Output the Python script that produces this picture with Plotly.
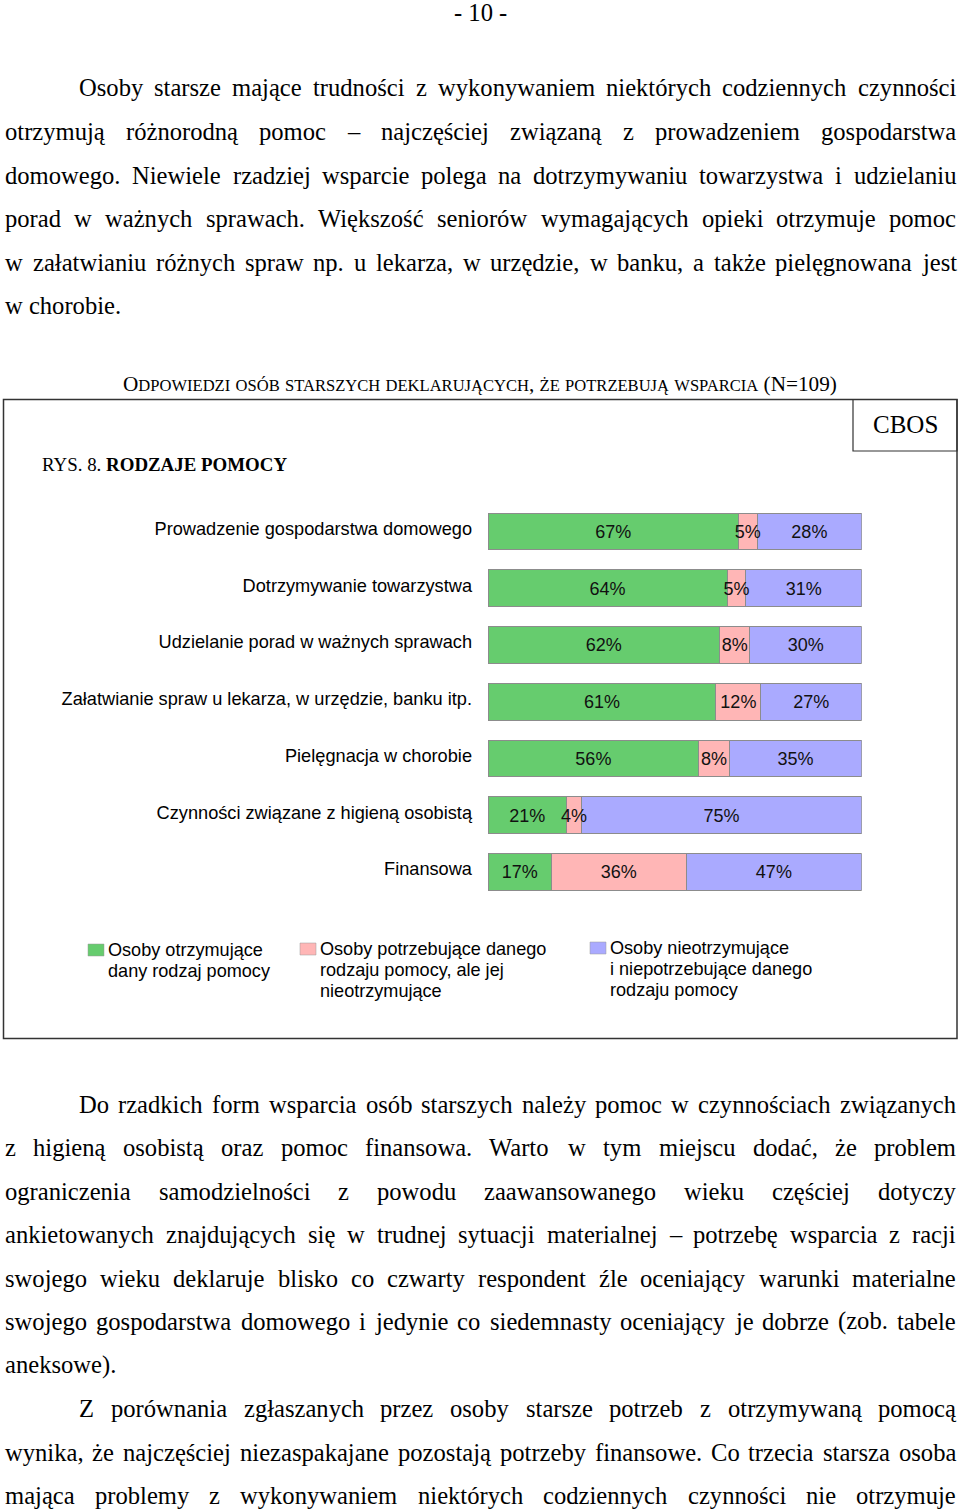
import plotly.graph_objects as go

W, H = 960, 1509

# ---------------- chart data ----------------
categories = [
    "Prowadzenie gospodarstwa domowego",
    "Dotrzymywanie towarzystwa",
    "Udzielanie porad w ważnych sprawach",
    "Załatwianie spraw u lekarza, w urzędzie, banku itp.",
    "Pielęgnacja w chorobie",
    "Czynności związane z higieną osobistą",
    "Finansowa",
]
received = [67, 64, 62, 61, 56.4, 21, 17]
needed_not_received = [5, 5, 8, 12, 8.2, 4, 36]
not_needed = [28, 31, 30, 27, 35.4, 75, 47]
series_names = [
    ["Osoby otrzymujące", "dany rodzaj pomocy"],
    ["Osoby potrzebujące danego", "rodzaju pomocy, ale jej", "nieotrzymujące"],
    ["Osoby nieotrzymujące", "i niepotrzebujące danego", "rodzaju pomocy"],
]
colors = ["#66CC6E", "#FFB6B6", "#AAAAFF"]

page_number = "- 10 -"
chart_title = "Odpowiedzi osób starszych deklarujących, że potrzebują wsparcia (N=109)"
fig_label_regular = "RYS. 8. "
fig_label_bold = "RODZAJE POMOCY"
source_label = "CBOS"

para1 = [
    "Osoby starsze mające trudności z wykonywaniem niektórych codziennych czynności",
    "otrzymują różnorodną pomoc – najczęściej związaną z prowadzeniem gospodarstwa",
    "domowego. Niewiele rzadziej wsparcie polega na dotrzymywaniu towarzystwa i udzielaniu",
    "porad w ważnych sprawach. Większość seniorów wymagających opieki otrzymuje pomoc",
    "w załatwianiu różnych spraw np. u lekarza, w urzędzie, w banku, a także pielęgnowana jest",
    "w chorobie.",
]
para2 = [
    "Do rzadkich form wsparcia osób starszych należy pomoc w czynnościach związanych",
    "z higieną osobistą oraz pomoc finansowa. Warto w tym miejscu dodać, że problem",
    "ograniczenia samodzielności z powodu zaawansowanego wieku częściej dotyczy",
    "ankietowanych znajdujących się w trudnej sytuacji materialnej – potrzebę wsparcia z racji",
    "swojego wieku deklaruje blisko co czwarty respondent źle oceniający warunki materialne",
    "swojego gospodarstwa domowego i jedynie co siedemnasty oceniający je dobrze (zob. tabele",
    "aneksowe).",
]
para3 = [
    "Z porównania zgłaszanych przez osoby starsze potrzeb z otrzymywaną pomocą",
    "wynika, że najczęściej niezaspakajane pozostają potrzeby finansowe. Co trzecia starsza osoba",
    "mająca problemy z wykonywaniem niektórych codziennych czynności nie otrzymuje",
]

# ---------------- helpers (layout) ----------------
SERIF = "Times New Roman, Liberation Serif, serif"
SANS = "Arial, Liberation Sans, sans-serif"


def X(px):
    return px / W


def Y(py):
    return 1 - py / H


ACC = {'ą': 'a', 'ć': 'c', 'ę': 'e', 'ł': 'l', 'ń': 'n', 'ó': 'o', 'ś': 's', 'ź': 'z', 'ż': 'z',
       'Ą': 'A', 'Ć': 'C', 'Ę': 'E', 'Ł': 'L', 'Ń': 'N', 'Ó': 'O', 'Ś': 'S', 'Ź': 'Z', 'Ż': 'Z'}
TR = dict(zip("abcdefghijklmnopqrstuvwxyz",
              [444, 500, 444, 500, 444, 333, 500, 500, 278, 278, 500, 278, 778, 500, 500, 500, 500, 333, 389,
               278, 500, 500, 722, 500, 500, 444]))
TR.update(zip("ABCDEFGHIJKLMNOPQRSTUVWXYZ",
              [722, 667, 667, 722, 611, 556, 722, 722, 333, 389, 722, 611, 889, 722, 722, 556, 722, 667, 556,
               611, 722, 722, 944, 722, 722, 611]))
TR.update({' ': 250, '.': 250, ',': 250, '-': 333, '–': 500, '(': 333, ')': 333, '=': 564, '%': 833,
           ':': 278, ';': 278})
TR.update({d: 500 for d in "0123456789"})


def tw(s, size, table=TR):
    return sum(table.get(ACC.get(c, c), 500) for c in s) * size / 1000.0


annotations = []
shapes = []


def ann(text, x, y, xanchor="left", size=24.6, family=SERIF, color="#000000", yanchor="middle"):
    annotations.append(dict(text=text, x=X(x), y=Y(y), xref="paper", yref="paper", xanchor=xanchor,
                            yanchor=yanchor, showarrow=False, borderpad=0, borderwidth=0,
                            font=dict(family=family, size=size, color=color), align="left"))


BODY = 24.6
LEFT, RIGHT, INDENT = 5, 956, 79


def add_paragraph(lines, ys, last_justified=False):
    for i, (line, y) in enumerate(zip(lines, ys)):
        left = INDENT if i == 0 else LEFT
        justify = (i < len(lines) - 1) or last_justified
        words = line.split(" ")
        if not justify or len(words) == 1:
            ann(line, left, y, size=BODY)
            continue
        widths = [tw(w, BODY) for w in words]
        gap = (RIGHT - left - sum(widths)) / (len(words) - 1)
        x = left
        for w, wd in zip(words, widths):
            ann(w, x, y, size=BODY)
            x += wd + gap


add_paragraph(para1, [88, 131, 175, 218, 262, 305])
add_paragraph(para2, [1104, 1147, 1191, 1234, 1278, 1321, 1365])
add_paragraph(para3, [1408, 1452, 1495], last_justified=True)

# page number
ann(page_number, 480, 12.5, xanchor="center", size=BODY)

# chart title in small caps
RATIO = 0.78
runs = []
for ch in chart_title:
    small = ch.islower()
    c = ch.upper() if small else ch
    if runs and runs[-1][1] == small:
        runs[-1][0] += c
    else:
        runs.append([c, small])
w_big = sum(tw(r, 1) for r, s in runs if not s)
w_small = sum(tw(r, 1) for r, s in runs if s)
TITLE_W = 717
BIG = TITLE_W / (w_big + RATIO * w_small)
html = "".join(
    (f"<span style='font-size:{BIG * RATIO:.2f}px'>{r}</span>" if s else r) for r, s in runs)
ann(html, 480, 384, xanchor="center", size=BIG)

# figure label
ann(fig_label_regular + f"<b>{fig_label_bold}</b>", 42, 464.5, size=18.9)
ann(source_label, 905, 424, xanchor="center", size=25)

# frames
shapes.append(dict(type="rect", xref="paper", yref="paper", x0=X(3.5), x1=X(957), y0=Y(1038.5), y1=Y(399.5),
                   line=dict(color="#333333", width=1.5), fillcolor="rgba(0,0,0,0)"))
shapes.append(dict(type="rect", xref="paper", yref="paper", x0=X(853), x1=X(957), y0=Y(451), y1=Y(399.5),
                   line=dict(color="#333333", width=1.2), fillcolor="rgba(0,0,0,0)"))

# custom legend (one annotation per text line to match the tight line spacing)
legend_pos = [(88, 950), (300, 949), (590, 948)]
LEG_LINE = 21
for (lx, ly), lines, col in zip(legend_pos, series_names, colors):
    shapes.append(dict(type="rect", xref="paper", yref="paper", x0=X(lx), x1=X(lx + 16), y0=Y(ly + 6),
                       y1=Y(ly - 6), line=dict(color="#999999", width=0.5), fillcolor=col))
    for k, line in enumerate(lines):
        ann(line, lx + 20, ly + k * LEG_LINE, size=18.1, family=SANS)

# ---------------- bars ----------------
fig = go.Figure()
series = [received, needed_not_received, not_needed]
for vals, lines, col in zip(series, series_names, colors):
    fig.add_trace(go.Bar(
        y=categories, x=vals, orientation="h", name=" ".join(lines),
        marker=dict(color=col, line=dict(color="#8C8C8C", width=1)),
        showlegend=False, hoverinfo="skip",
    ))

# category labels on a companion axis (nudged up slightly like the reference)
fig.add_trace(go.Scatter(
    y=categories, x=[0] * len(categories), mode="markers", marker=dict(opacity=0, size=1),
    yaxis="y2", showlegend=False, hoverinfo="skip",
))

# segment labels drawn on top of all bars (so overflowing labels stay visible)
base = [0] * len(categories)
for vals in series:
    mids = [b + v / 2 for b, v in zip(base, vals)]
    fig.add_trace(go.Scatter(
        y=categories, x=mids, mode="text", text=[f"{v:.0f}%" for v in vals],
        textposition="middle center", cliponaxis=False, yaxis="y3",
        textfont=dict(family=SANS, size=18, color="#111111"),
        showlegend=False, hoverinfo="skip",
    ))
    base = [b + v for b, v in zip(base, vals)]

row_h = 56.75
top = 531.5 - row_h / 2
bottom = 872 + row_h / 2
cat_axis = dict(type="category", categoryorder="array", categoryarray=categories, range=[6.5, -0.5],
                showgrid=False, zeroline=False, showline=False, ticks="", automargin=False, fixedrange=True)
fig.update_layout(
    template="none",
    width=W, height=H,
    margin=dict(l=0, r=0, t=0, b=0),
    paper_bgcolor="white", plot_bgcolor="rgba(0,0,0,0)",
    barmode="stack", bargap=0.35,
    showlegend=False,
    xaxis=dict(domain=[X(488), X(861.7)], range=[0, 100], visible=False, fixedrange=True),
    yaxis=dict(domain=[Y(bottom), Y(top)], showticklabels=False, **cat_axis),
    yaxis2=dict(domain=[Y(bottom - 3), Y(top - 3)], anchor="x", showticklabels=True,
                ticklabelstandoff=15, tickfont=dict(family=SANS, size=18.2, color="#000000"), **cat_axis),
    yaxis3=dict(domain=[Y(bottom + 2), Y(top + 2)], anchor="x", showticklabels=False, **cat_axis),
    annotations=annotations,
    shapes=shapes,
)

fig.write_html(
    "out.html",
    config={"displayModeBar": False},
    post_script="document.body.style.margin='0';document.body.style.padding='0';",
)
